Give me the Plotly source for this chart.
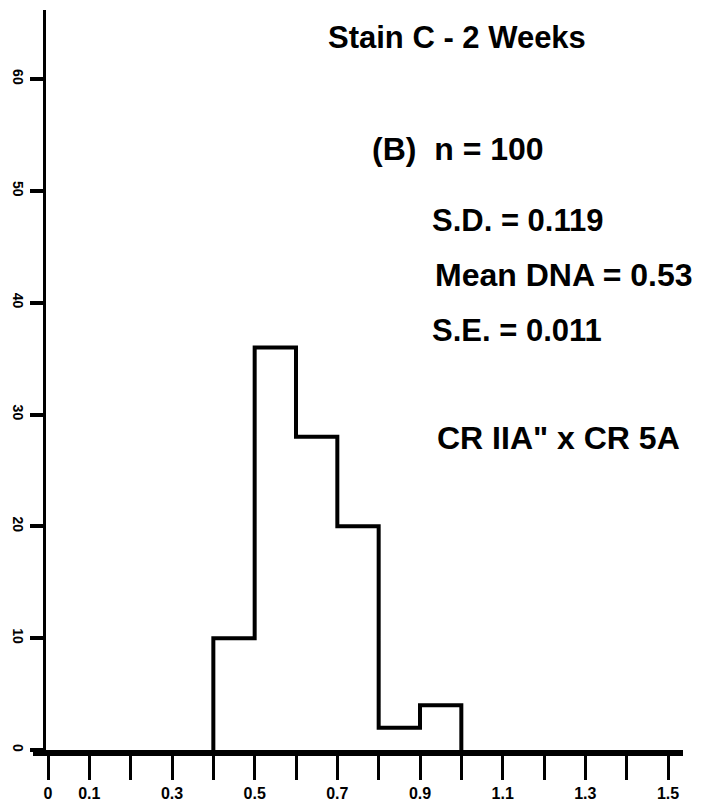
import plotly.graph_objects as go

# ---- data ----
bin_edges = [0.4, 0.5, 0.6, 0.7, 0.8, 0.9, 1.0]
counts = [10, 36, 28, 20, 2, 4]

x_tick_vals = [0.0, 0.1, 0.2, 0.3, 0.4, 0.5, 0.6, 0.7, 0.8, 0.9, 1.0, 1.1, 1.2, 1.3, 1.4, 1.5]
x_tick_text = ["0", "0.1", "", "0.3", "", "0.5", "", "0.7", "", "0.9", "", "1.1", "", "1.3", "", "1.5"]
y_tick_vals = [0, 10, 20, 30, 40, 50, 60]
y_tick_text = ["0", "10", "20", "30", "40", "50", "60"]

title_text = "Stain C - 2 Weeks"
info_lines = ["(B) \u00a0n = 100", "S.D. = 0.119", "Mean DNA = 0.53", "S.E. = 0.011", "CR IIA\" x CR 5A"]

# ---- layout geometry (pixels) ----
# the page body has an 8px default margin, so the figure is offset by 8px
OX, OY = 8, 8
W, H = 704 - OX, 804 - OY
L, R, T, B = 33 - OX, 21, 10 - OY, 54
PW, PH = W - L - R, H - T - B
PLOT_LEFT = OX + L
PLOT_BOTTOM = OY + H - B

FONT = "Liberation Sans, Arial, sans-serif"

step_x = [bin_edges[0]] + bin_edges[:-1] + [bin_edges[-1]]
step_y = [0] + counts + [0]

fig = go.Figure()
fig.add_trace(go.Scatter(
    x=step_x, y=step_y, mode="lines",
    line=dict(color="black", width=4, shape="hv"),
    hoverinfo="skip",
))


def px(xp):
    return (xp - PLOT_LEFT) / PW


def py(yp):
    return (PLOT_BOTTOM - yp) / PH


annots = []
annots.append(dict(x=px(326), y=py(38), text=title_text, size=31))
positions = [(370, 149), (430, 221), (433, 275), (430, 330), (435, 438)]
sizes = [32, 31, 32, 31, 32]
for (xx, yy), t, s in zip(positions, info_lines, sizes):
    annots.append(dict(x=px(xx), y=py(yy), text=t, size=s))
final_annots = []
for a in annots:
    s = a.pop("size")
    a.update(xref="paper", yref="paper", xanchor="left", yanchor="middle",
             showarrow=False, font=dict(family=FONT, size=s, color="black", weight="bold"))
    final_annots.append(a)

fig.update_layout(
    width=W, height=H,
    margin=dict(l=L, r=R, t=T, b=B, pad=0, autoexpand=False),
    paper_bgcolor="white", plot_bgcolor="white",
    showlegend=False,
    annotations=final_annots,
    xaxis=dict(
        range=[-0.0363, 1.5363], showgrid=False, zeroline=False, automargin=False,
        showline=True, linecolor="black", linewidth=6,
        ticks="outside", ticklen=24, tickwidth=3, tickcolor="black",
        tickvals=x_tick_vals, ticktext=x_tick_text,
        tickfont=dict(family=FONT, size=16, color="black", weight="bold"),
    ),
    yaxis=dict(
        range=[0, 66.17], showgrid=False, zeroline=False, automargin=False,
        anchor="free", position=px(44),
        showline=True, linecolor="black", linewidth=3,
        ticks="outside", ticklen=13, tickwidth=4, tickcolor="black",
        tickvals=y_tick_vals, ticktext=y_tick_text, tickangle=90,
        tickfont=dict(family=FONT, size=14, color="black", weight="bold"),
    ),
)

fig.write_html("out.html")
